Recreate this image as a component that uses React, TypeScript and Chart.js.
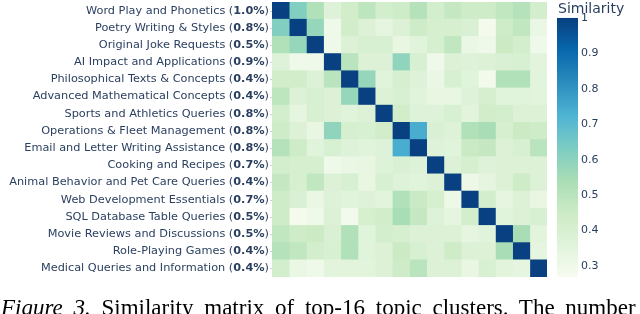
import React, { useEffect, useRef } from 'react';
import { Chart, registerables } from 'chart.js';

Chart.register(...registerables);

const topics = [
  'Word Play and Phonetics',
  'Poetry Writing & Styles',
  'Original Joke Requests',
  'AI Impact and Applications',
  'Philosophical Texts & Concepts',
  'Advanced Mathematical Concepts',
  'Sports and Athletics Queries',
  'Operations & Fleet Management',
  'Email and Letter Writing Assistance',
  'Cooking and Recipes',
  'Animal Behavior and Pet Care Queries',
  'Web Development Essentials',
  'SQL Database Table Queries',
  'Movie Reviews and Discussions',
  'Role-Playing Games',
  'Medical Queries and Information',
];

const shares = ['1.0%', '0.8%', '0.5%', '0.9%', '0.4%', '0.4%', '0.8%', '0.8%', '0.8%', '0.7%', '0.4%', '0.7%', '0.5%', '0.5%', '0.4%', '0.4%'];

const similarity: number[][] = [
  [1.0, 0.62, 0.52, 0.37, 0.43, 0.49, 0.42, 0.44, 0.51, 0.42, 0.47, 0.44, 0.44, 0.48, 0.51, 0.42],
  [0.62, 1.0, 0.58, 0.30, 0.43, 0.38, 0.34, 0.38, 0.44, 0.41, 0.41, 0.39, 0.28, 0.44, 0.48, 0.32],
  [0.52, 0.58, 1.0, 0.30, 0.38, 0.40, 0.40, 0.33, 0.36, 0.41, 0.48, 0.32, 0.30, 0.45, 0.42, 0.30],
  [0.37, 0.30, 0.30, 1.0, 0.50, 0.38, 0.38, 0.59, 0.40, 0.30, 0.38, 0.37, 0.38, 0.39, 0.40, 0.35],
  [0.43, 0.43, 0.38, 0.50, 1.0, 0.58, 0.36, 0.41, 0.37, 0.32, 0.40, 0.36, 0.29, 0.52, 0.52, 0.35],
  [0.49, 0.38, 0.40, 0.38, 0.58, 1.0, 0.38, 0.40, 0.36, 0.33, 0.33, 0.37, 0.41, 0.36, 0.36, 0.35],
  [0.42, 0.34, 0.40, 0.38, 0.36, 0.38, 1.0, 0.43, 0.37, 0.37, 0.40, 0.35, 0.43, 0.42, 0.38, 0.38],
  [0.44, 0.38, 0.33, 0.59, 0.41, 0.40, 0.43, 1.0, 0.74, 0.39, 0.37, 0.52, 0.54, 0.41, 0.45, 0.44],
  [0.51, 0.44, 0.36, 0.40, 0.37, 0.36, 0.37, 0.74, 1.0, 0.37, 0.36, 0.46, 0.47, 0.38, 0.40, 0.50],
  [0.42, 0.41, 0.41, 0.30, 0.32, 0.33, 0.37, 0.39, 0.37, 1.0, 0.38, 0.41, 0.37, 0.38, 0.38, 0.38],
  [0.47, 0.41, 0.48, 0.38, 0.40, 0.33, 0.40, 0.37, 0.36, 0.38, 1.0, 0.31, 0.34, 0.38, 0.44, 0.38],
  [0.44, 0.39, 0.32, 0.37, 0.36, 0.37, 0.35, 0.52, 0.46, 0.41, 0.31, 1.0, 0.42, 0.34, 0.38, 0.33],
  [0.44, 0.28, 0.30, 0.38, 0.29, 0.41, 0.43, 0.54, 0.47, 0.37, 0.34, 0.42, 1.0, 0.36, 0.38, 0.40],
  [0.48, 0.44, 0.45, 0.39, 0.52, 0.36, 0.42, 0.41, 0.38, 0.38, 0.38, 0.34, 0.36, 1.0, 0.54, 0.35],
  [0.51, 0.48, 0.42, 0.40, 0.52, 0.36, 0.38, 0.45, 0.40, 0.38, 0.44, 0.38, 0.38, 0.54, 1.0, 0.34],
  [0.42, 0.32, 0.30, 0.35, 0.35, 0.35, 0.38, 0.44, 0.50, 0.38, 0.38, 0.33, 0.40, 0.35, 0.34, 1.0],
];

const cbTicks = [0.3, 0.4, 0.5, 0.6, 0.7, 0.8, 0.9, 1];
const cbTickLabels = ['0.3', '0.4', '0.5', '0.6', '0.7', '0.8', '0.9', '1'];
const colorMin = 0.269;
const colorMax = 1;
const cbAxisMax = 1.045;

const gnBu = ['#f7fcf0', '#e0f3db', '#ccebc5', '#a8ddb5', '#7bccc4', '#4eb3d3', '#2b8cbe', '#0868ac', '#084081'];
const textColor = '#2a3f5f';
const labelFont = '"DejaVu Sans", sans-serif';
const labelSize = 11.3;

function hexToRgb(h: string) {
  return [parseInt(h.slice(1, 3), 16), parseInt(h.slice(3, 5), 16), parseInt(h.slice(5, 7), 16)];
}

function colorFor(v: number) {
  let t = (v - colorMin) / (colorMax - colorMin);
  t = Math.max(0, Math.min(1, t));
  const pos = t * (gnBu.length - 1);
  const i = Math.min(Math.floor(pos), gnBu.length - 2);
  const f = pos - i;
  const a = hexToRgb(gnBu[i]);
  const b = hexToRgb(gnBu[i + 1]);
  const c = a.map((x, k) => Math.round(x + (b[k] - x) * f));
  return `rgb(${c[0]},${c[1]},${c[2]})`;
}

const decorPlugin = {
  id: 'decor',
  afterDraw(chart: any) {
    const ctx = chart.ctx as CanvasRenderingContext2D;
    const yScale = chart.scales.y;
    const cb = chart.scales.cb;
    const area = chart.chartArea;
    ctx.save();
    ctx.textBaseline = 'middle';
    ctx.textAlign = 'right';
    ctx.fillStyle = textColor;
    topics.forEach((name, i) => {
      const py = yScale.getPixelForValue(i);
      let x = area.left - 3;
      ctx.font = `${labelSize}px ${labelFont}`;
      ctx.fillText(')', x, py);
      x -= ctx.measureText(')').width;
      ctx.font = `bold ${labelSize}px ${labelFont}`;
      ctx.fillText(shares[i], x, py);
      x -= ctx.measureText(shares[i]).width;
      ctx.font = `${labelSize}px ${labelFont}`;
      ctx.fillText(name + ' (', x, py);
    });
    ctx.fillStyle = '#cfcfcf';
    topics.forEach((_, i) => {
      const py = Math.round(yScale.getPixelForValue(i));
      ctx.fillRect(area.left - 2, py, 2, 1);
    });
    const top = cb.getPixelForValue(colorMax);
    const bottom = cb.getPixelForValue(colorMin);
    const x0 = cb.left + 10;
    const w = 21;
    const grad = ctx.createLinearGradient(0, bottom, 0, top);
    gnBu.forEach((c, k) => grad.addColorStop(k / (gnBu.length - 1), c));
    ctx.fillStyle = grad;
    ctx.fillRect(x0, top, w, bottom - top);
    ctx.fillStyle = textColor;
    ctx.textAlign = 'left';
    ctx.textBaseline = 'alphabetic';
    ctx.font = `14px ${labelFont}`;
    ctx.fillText('Similarity', x0 + 1, 13);
    ctx.restore();
  },
};

export default function App() {
  const canvasRef = useRef<HTMLCanvasElement | null>(null);

  useEffect(() => {
    if (!canvasRef.current) return;
    const datasets = topics.map((_, j) => ({
      label: 'col' + j,
      data: topics.map(() => [j, j + 1]),
      backgroundColor: topics.map((_, i) => colorFor(similarity[i][j])),
      borderWidth: 0,
      barPercentage: 1,
      categoryPercentage: 1,
      grouped: false,
    }));
    const chart = new Chart(canvasRef.current, {
      type: 'bar',
      data: { labels: topics, datasets: datasets as any },
      options: {
        indexAxis: 'y',
        animation: false,
        responsive: false,
        events: [],
        layout: { padding: { left: 272, top: 2, bottom: 37, right: 0 } },
        plugins: { legend: { display: false }, tooltip: { enabled: false } },
        scales: {
          x: { type: 'linear', min: 0, max: topics.length, display: false },
          y: { type: 'category', display: false, offset: true },
          cb: {
            type: 'linear',
            position: 'right',
            axis: 'y',
            offset: false,
            bounds: 'data',
            min: colorMin,
            max: cbAxisMax,
            grid: { display: false, drawTicks: false, offset: false },
            border: { display: false },
            ticks: {
              padding: 34,
              color: textColor,
              font: { family: labelFont, size: 11 },
              callback: (_v: any, idx: number) => cbTickLabels[idx],
            },
            afterBuildTicks: (s: any) => {
              s.ticks = cbTicks.map((v) => ({ value: v }));
              s.min = colorMin;
              s.max = cbAxisMax;
            },
            afterFit: (s: any) => {
              s.width = 93;
              s.paddingTop = 0;
              s.paddingBottom = 0;
            },
          } as any,
        },
      },
      plugins: [decorPlugin],
    });
    return () => chart.destroy();
  }, []);

  return (
    <div style={{ position: 'absolute', left: 0, top: 0, width: 640, height: 314, overflow: 'hidden', background: '#fff' }}>
      <canvas ref={canvasRef} width={640} height={314} style={{ position: 'absolute', left: 0, top: 0, display: 'block' }} />
      <div
        style={{
          position: 'absolute',
          left: 1,
          top: 296,
          fontFamily: '"Liberation Serif", "Times New Roman", serif',
          fontSize: 23,
          lineHeight: '23px',
          wordSpacing: 5,
          whiteSpace: 'nowrap',
          color: '#000',
        }}
      >
        <span style={{ fontStyle: 'italic' }}>Figure 3.</span> Similarity matrix of top-16 topic clusters. The number
      </div>
    </div>
  );
}
